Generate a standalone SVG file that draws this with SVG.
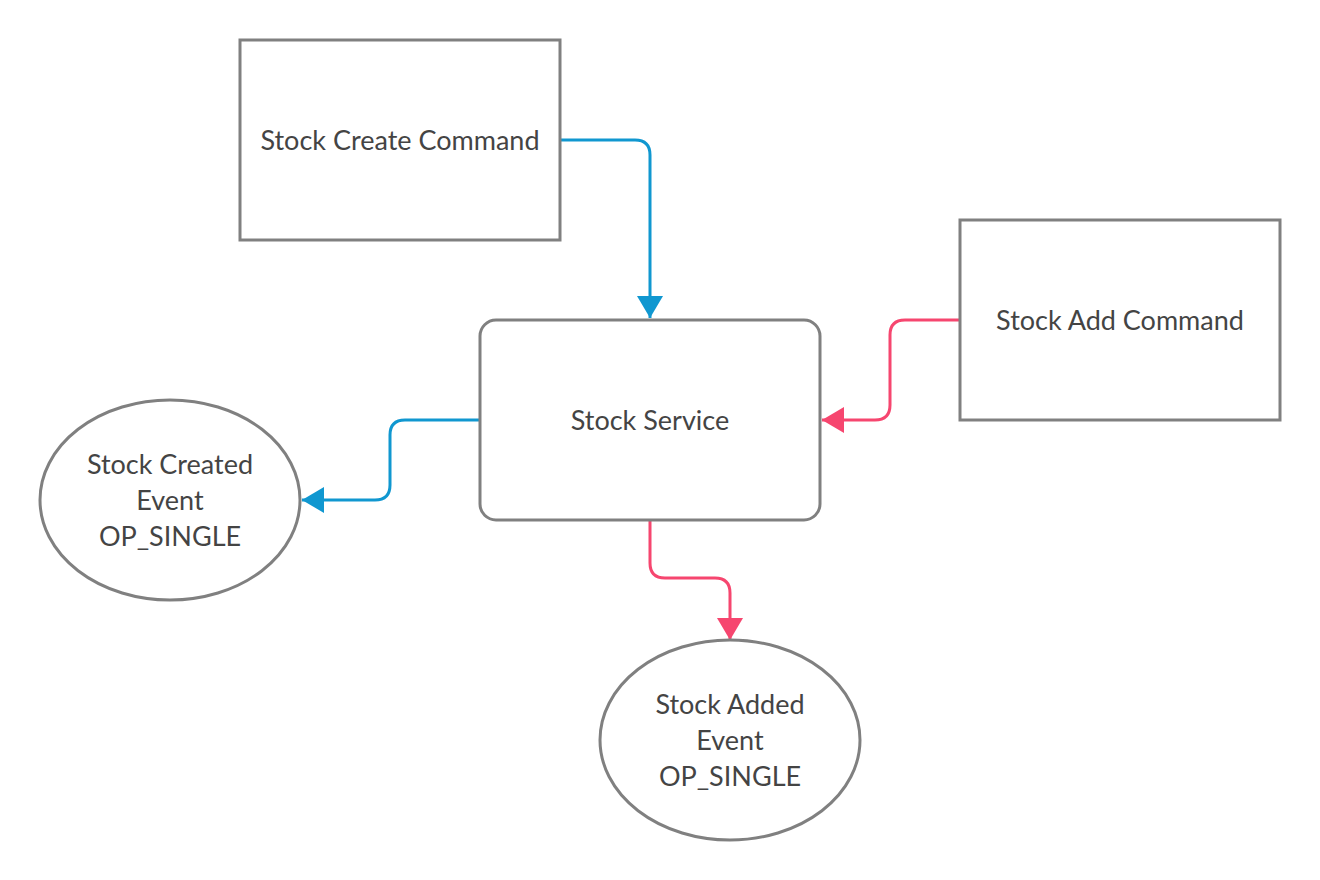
<svg xmlns="http://www.w3.org/2000/svg" width="1320" height="880" viewBox="0 0 1320 880">
<defs>
<style>
.box{fill:#fff;stroke:#808080;stroke-width:3}
.lbl{font-family:Lato,"Liberation Sans",sans-serif;font-size:27px;fill:#444;text-anchor:middle;dominant-baseline:central}
.blue{fill:none;stroke:#1097d0;stroke-width:3}
.pink{fill:none;stroke:#f6466f;stroke-width:3}
</style>
<marker id="ab" viewBox="0 0 22 26" refX="22" refY="13" markerWidth="22" markerHeight="26" markerUnits="userSpaceOnUse" orient="auto"><path d="M0,0 L22,13 L0,26 Z" fill="#1097d0"/></marker>
<marker id="ap" viewBox="0 0 22 26" refX="22" refY="13" markerWidth="22" markerHeight="26" markerUnits="userSpaceOnUse" orient="auto"><path d="M0,0 L22,13 L0,26 Z" fill="#f6466f"/></marker>
</defs>
<rect width="1320" height="880" fill="#fff"/>
<g id="connectors">
<path class="blue" d="M560,140 H635 Q650,140 650,155 V318" marker-end="url(#ab)"/>
<path class="pink" d="M960,320 H905 Q890,320 890,335 V405 Q890,420 875,420 H822" marker-end="url(#ap)"/>
<path class="blue" d="M480,420 H405 Q390,420 390,435 V485 Q390,500 375,500 H302" marker-end="url(#ab)"/>
<path class="pink" d="M650,520 V563 Q650,578 665,578 H715 Q730,578 730,593 V640" marker-end="url(#ap)"/>
</g>
<g id="stock-create-command">
<rect class="box" x="240" y="40" width="320" height="200"/>
<text class="lbl" x="400" y="139">Stock Create Command</text>
</g>
<g id="stock-add-command">
<rect class="box" x="960" y="220" width="320" height="200"/>
<text class="lbl" x="1120" y="319">Stock Add Command</text>
</g>
<g id="stock-service">
<rect class="box" x="480" y="320" width="340" height="200" rx="16" ry="16"/>
<text class="lbl" x="650" y="419">Stock Service</text>
</g>
<g id="stock-created-event">
<ellipse class="box" cx="170" cy="500" rx="130" ry="100"/>
<text class="lbl" x="170" y="463">Stock Created</text>
<text class="lbl" x="170" y="499">Event</text>
<text class="lbl" x="170" y="535">OP_SINGLE</text>
</g>
<g id="stock-added-event">
<ellipse class="box" cx="730" cy="740" rx="130" ry="100"/>
<text class="lbl" x="730" y="703">Stock Added</text>
<text class="lbl" x="730" y="739">Event</text>
<text class="lbl" x="730" y="775">OP_SINGLE</text>
</g>
</svg>
